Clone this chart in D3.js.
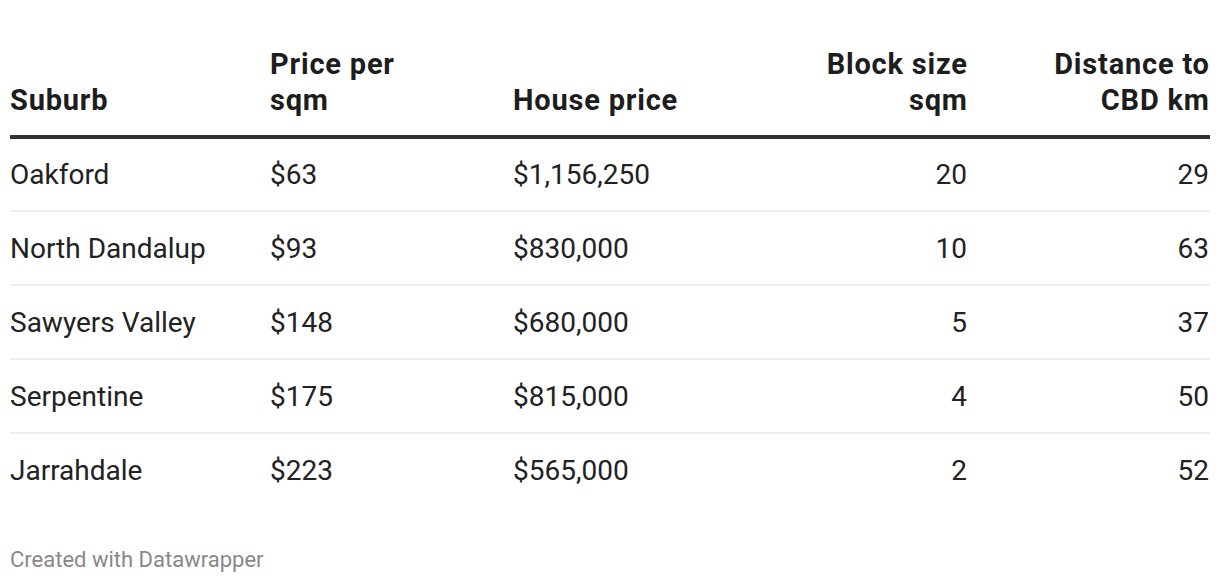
<!DOCTYPE html>
<html><head><meta charset="utf-8">
<script src="https://cdn.jsdelivr.net/npm/d3@7"></script>
<style>body{margin:0;background:#fff;} text{font-family:Roboto,sans-serif;}</style>
</head><body><svg id="c" width="1220" height="582"></svg>
<script>
const suburbs = ["Oakford","North Dandalup","Sawyers Valley","Serpentine","Jarrahdale"];
const pricePerSqm = ["$63","$93","$148","$175","$223"];
const housePrice = ["$1,156,250","$830,000","$680,000","$815,000","$565,000"];
const blockSize = ["20","10","5","4","2"];
const distance = ["29","63","37","50","52"];
const headers = [["Suburb"],["Price per","sqm"],["House price"],["Block size","sqm"],["Distance to","CBD km"]];
const columns = [suburbs, pricePerSqm, housePrice, blockSize, distance];
const colX = [10, 270, 513, 967, 1209];
const colAnchor = ["start","start","start","end","end"];

const svg = d3.select("#c");
const y = d3.scaleBand().domain(d3.range(suburbs.length)).range([138, 508]);

// header
headers.forEach((h, ci) => {
  const lines = h.length;
  h.forEach((t, li) => {
    svg.append("text").attr("x", colX[ci] + (colAnchor[ci] === "end" ? 0.8 : 0)).attr("y", 110 - (lines - 1 - li) * 36)
      .attr("text-anchor", colAnchor[ci]).attr("font-size", 29).attr("font-weight", 700)
      .attr("letter-spacing", 0.8)
      .attr("fill", "#1d1d1d").text(t);
  });
});
svg.append("rect").attr("x", 10).attr("y", 135).attr("width", 1200).attr("height", 4).attr("fill", "#333");

// rows
suburbs.forEach((s, ri) => {
  const cy = y(ri) + y.bandwidth() / 2;
  columns.forEach((col, ci) => {
    svg.append("text").attr("x", colX[ci]).attr("y", cy + 9)
      .attr("text-anchor", colAnchor[ci]).attr("font-size", 28)
      .attr("fill", "#222").text(col[ri]);
  });
  if (ri < suburbs.length - 1) {
    svg.append("rect").attr("x", 10).attr("y", y(ri) + y.bandwidth() - 2).attr("width", 1200).attr("height", 2).attr("fill", "#eeeeee");
  }
});

svg.append("text").attr("x", 10).attr("y", 567).attr("font-size", 22).attr("fill", "#888").text("Created with Datawrapper");
</script></body></html>
